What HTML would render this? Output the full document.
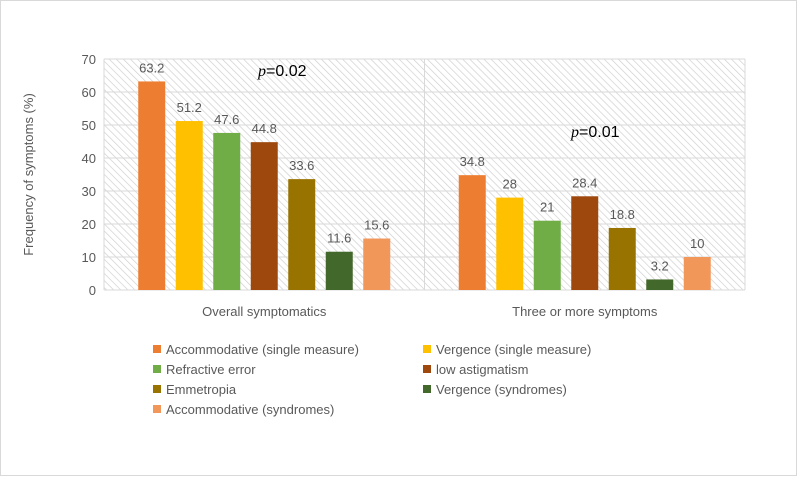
<!DOCTYPE html>
<html><head><meta charset="utf-8"><style>
body{margin:0;background:#fff}
svg{display:block;font-family:"Liberation Sans",Carlito,sans-serif}
</style></head><body>
<svg width="800" height="477" viewBox="0 0 800 477">
<defs>
<pattern id="hatch" patternUnits="userSpaceOnUse" width="5" height="5" patternTransform="rotate(-45)">
<rect width="5" height="5" fill="#fff"/><line x1="0" y1="0" x2="0" y2="5" stroke="#d0d0d0" stroke-width="1.4"/>
</pattern>
</defs>
<rect x="0.5" y="0.5" width="796" height="475" fill="#fff" stroke="#d9d9d9"/>
<rect x="104" y="59" width="641" height="231" fill="url(#hatch)"/>
<g id="grid"></g>
<g id="bars"></g>
<text x="258" y="76" font-size="16" fill="#000"><tspan font-style="italic" font-family="Liberation Serif">p</tspan>=0.02</text>
<text x="571" y="137" font-size="16" fill="#000"><tspan font-style="italic" font-family="Liberation Serif">p</tspan>=0.01</text>
<text transform="translate(33,174.5) rotate(-90)" text-anchor="middle" font-size="13" fill="#595959">Frequency of symptoms (%)</text>
<g id="legend"></g>
</svg>
<script>
const categories=["Overall symptomatics","Three  or more symptoms"];
const seriesNames=["Accommodative (single measure)","Vergence (single measure)","Refractive error","low astigmatism","Emmetropia","Vergence  (syndromes)","Accommodative (syndromes)"];
const seriesColors=["#ed7d31","#ffc000","#70ad47","#9e480e","#997300","#43682b","#f1975a"];
const accSingle=[63.2,34.8];
const vergSingle=[51.2,28];
const refractive=[47.6,21];
const lowAstig=[44.8,28.4];
const emmetropia=[33.6,18.8];
const vergSynd=[11.6,3.2];
const accSynd=[15.6,10];
const series=[accSingle,vergSingle,refractive,lowAstig,emmetropia,vergSynd,accSynd];
const yTicks=[0,10,20,30,40,50,60,70];
const NS="http://www.w3.org/2000/svg";
const X0=104,X1=745,Y0=290,Y1=59,YMAX=70;
const y=v=>Y0-(v/YMAX)*(Y0-Y1);
const catW=(X1-X0)/categories.length;
const xc=i=>X0+catW*(i+0.5);
function mk(tag,attrs,parent){const e=document.createElementNS(NS,tag);for(const k in attrs)e.setAttribute(k,attrs[k]);parent.appendChild(e);return e;}
const grid=document.getElementById('grid');
yTicks.forEach(t=>{
  const l=mk('line',{x1:X0,x2:X1,y1:y(t),y2:y(t),stroke:'#d9d9d9','stroke-width':1},grid);
  
  
  const tx=mk('text',{x:X0-8,y:y(t)+5,'text-anchor':'end','font-size':13,fill:'#595959'},grid);
  tx.textContent=t;
  
  
});
for(let i=0;i<=categories.length;i++){
  const l=mk('line',{x1:X0+catW*i,x2:X0+catW*i,y1:Y1,y2:Y0,stroke:'#d9d9d9'},grid);
  
  
}
categories.forEach((c,i)=>{
  const t=mk('text',{x:xc(i),y:316,'text-anchor':'middle','font-size':13,fill:'#595959'},grid);
  t.textContent=c;
  
  
});
const bars=document.getElementById('bars');
const step=37.5,bw=27,n=series.length;
series.forEach((s,si)=>{
  s.forEach((v,ci)=>{
    const x=xc(ci)-((n-1)*step+bw)/2+si*step;
    const r=mk('rect',{x:x,y:y(v),width:bw,height:Y0-y(v),fill:seriesColors[si]},bars);
    
    
    const t=mk('text',{x:x+bw/2,y:y(v)-9,'text-anchor':'middle','font-size':13,fill:'#595959'},bars);
    t.textContent=v;
    
    
  });
});
const lg=document.getElementById('legend');
seriesNames.forEach((nm,i)=>{
  const col=i%2,row=Math.floor(i/2);
  const lx=col?423:153,ly=354+row*20;
  const g=mk('g',{},lg);
  
  
  mk('rect',{x:lx,y:ly-9,width:8,height:8,fill:seriesColors[i]},g);
  const t=mk('text',{x:lx+13,y:ly,'font-size':13,fill:'#595959'},g);
  t.textContent=nm;
});
</script>
</body></html>
